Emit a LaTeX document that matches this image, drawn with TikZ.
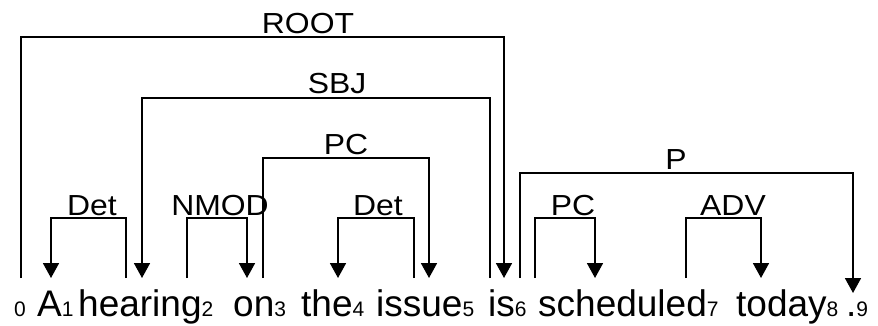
\documentclass[tikz,border=0pt]{standalone}
\usepackage{fontspec}
\setmainfont{Liberation Sans}[FakeStretch=1.1]
\newfontfamily\wordfont{Liberation Sans}
\usetikzlibrary{arrows.meta}
\newcommand{\wsz}{\wordfont\fontsize{37}{38}\selectfont}
\newcommand{\ssz}{\fontsize{21}{22}\selectfont}
\newcommand{\lsz}{\fontsize{29}{30}\selectfont}
\begin{document}
\begin{tikzpicture}[x=1pt,y=-1pt,
  word/.style={anchor=base west,inner sep=0pt,font=\wsz},
  rel/.style={anchor=base,inner sep=0pt,font=\lsz},
  arc/.style={line width=1.8pt,line join=miter},
  arcto/.style={arc,-{Triangle[width=16pt,length=15pt]}}]
\useasboundingbox (0,0) rectangle (878,325);
% words
\node[word] (w0) at (14,316) {\ssz 0};
\node[word] (w1) at (37,316) {A\ssz 1};
\node[word] (w2) at (78,316) {hearing\ssz 2};
\node[word] (w3) at (233,316) {on\ssz 3};
\node[word] (w4) at (301,316) {the\ssz 4};
\node[word] (w5) at (376,316) {issue\ssz 5};
\node[word] (w6) at (488,316) {is\ssz 6};
\node[word] (w7) at (538,316) {scheduled\ssz 7};
\node[word] (w8) at (736,316) {today\ssz 8};
\node[word] (w9) at (846,316) {.\ssz 9};
% arc end points
\coordinate (root-s) at (21,278);   \coordinate (root-e) at (504,278);
\coordinate (sbj-s) at (490,278);   \coordinate (sbj-e) at (142,278);
\coordinate (pc1-s) at (263,278);   \coordinate (pc1-e) at (429,278);
\coordinate (det1-s) at (126,278);  \coordinate (det1-e) at (51,278);
\coordinate (nmod-s) at (187,278);  \coordinate (nmod-e) at (247,278);
\coordinate (det2-s) at (414,278);  \coordinate (det2-e) at (338,278);
\coordinate (p-s) at (520,278);     \coordinate (p-e) at (853,293);
\coordinate (pc2-s) at (535,278);   \coordinate (pc2-e) at (595,278);
\coordinate (adv-s) at (686,278);   \coordinate (adv-e) at (761,278);
% labels
\node[rel] (lroot) at (308,33) {ROOT};
\node[rel] (lsbj) at (337,93) {SBJ};
\node[rel] (lpc1) at (346,154) {PC};
\node[rel] (ldet1) at (92,215) {Det};
\node[rel] (lnmod) at (220,215) {NMOD};
\node[rel] (ldet2) at (378,215) {Det};
\node[rel] (lp) at (676,169) {P};
\node[rel] (lpc2) at (573,215) {PC};
\node[rel] (ladv) at (733,215) {ADV};
% arcs
\draw[arcto] (root-s) -- (root-s |- 0,37) -- (root-e |- 0,37) -- (root-e);
\draw[arcto] (sbj-s) -- (sbj-s |- 0,98) -- (sbj-e |- 0,98) -- (sbj-e);
\draw[arcto] (pc1-s) -- (pc1-s |- 0,158) -- (pc1-e |- 0,158) -- (pc1-e);
\draw[arcto] (det1-s) -- (det1-s |- 0,218) -- (det1-e |- 0,218) -- (det1-e);
\draw[arcto] (nmod-s) -- (nmod-s |- 0,218) -- (nmod-e |- 0,218) -- (nmod-e);
\draw[arcto] (det2-s) -- (det2-s |- 0,218) -- (det2-e |- 0,218) -- (det2-e);
\draw[arcto] (p-s) -- (p-s |- 0,173) -- (p-e |- 0,173) -- (p-e);
\draw[arcto] (pc2-s) -- (pc2-s |- 0,218) -- (pc2-e |- 0,218) -- (pc2-e);
\draw[arcto] (adv-s) -- (adv-s |- 0,218) -- (adv-e |- 0,218) -- (adv-e);
\end{tikzpicture}
\end{document}
